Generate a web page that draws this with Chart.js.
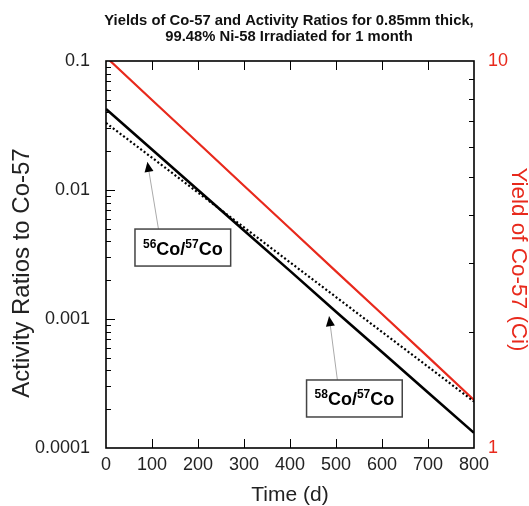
<!DOCTYPE html>
<html><head><meta charset="utf-8">
<script src="https://cdn.jsdelivr.net/npm/chart.js@4/dist/chart.umd.min.js"></script>
<style>html,body{margin:0;padding:0;background:#fff;}canvas{display:block;}</style>
</head><body>
<canvas id="c" width="529" height="506"></canvas>
<script>
// ---- data ----
const days = [0, 100, 200, 300, 400, 500, 600, 700, 800];
const co58Ratio = [0.0425, 0.0206, 0.0100, 0.00485, 0.00236, 0.00114, 0.000555, 0.000269, 0.000131];
const co56Ratio = [0.0331, 0.0178, 0.00955, 0.00513, 0.00275, 0.00148, 0.000794, 0.000427, 0.000229];
const co57Yield = [10.24, 7.93, 6.15, 4.76, 3.69, 2.86, 2.22, 1.72, 1.33];
const xTickValues = [0, 100, 200, 300, 400, 500, 600, 700, 800];
const leftTickValues = [0.0001, 0.001, 0.01, 0.1];
const leftTickLabels = ['0.0001', '0.001', '0.01', '0.1'];
const rightTickValues = [1, 10];
const rightTickLabels = ['1', '10'];
const titleLines = ['Yields of Co-57 and Activity Ratios for 0.85mm thick,', '99.48% Ni-58 Irradiated for 1 month'];
const leftTitle = 'Activity Ratios to Co-57';
const rightTitle = 'Yield of Co-57 (Ci)';
const xTitle = 'Time (d)';
const annotations = [
  {sup1: '56', main1: 'Co/', sup2: '57', main2: 'Co', tip: {x: 90, y: 0.0165}, tail: {x: 114, y: 0.00499}, box: {x: 167, y: 0.00358}},
  {sup1: '58', main1: 'Co/', sup2: '57', main2: 'Co', tip: {x: 485, y: 0.00105}, tail: {x: 503, y: 0.000337}, box: {x: 540, y: 0.000242}}
];

const FAM = '"Liberation Sans", Arial, Helvetica, sans-serif';
const RED = '#e8291c';
const TXT = '#222';

const titlePlugin = {
  id: 'titleText',
  afterDraw(chart) {
    const {ctx, chartArea: a} = chart;
    ctx.save();
    ctx.fillStyle = '#111';
    ctx.font = 'bold 14.8px ' + FAM;
    ctx.textAlign = 'center';
    ctx.textBaseline = 'middle';
    const cx = (a.left + a.right) / 2 - 1;
    ctx.fillText(titleLines[0], cx, 21);
    ctx.fillText(titleLines[1], cx, 36.5);
    // left axis title
    ctx.save();
    ctx.translate(22, 273);
    ctx.rotate(-Math.PI / 2);
    ctx.font = '24px ' + FAM;
    ctx.fillStyle = TXT;
    ctx.fillText(leftTitle, 0, 0);
    ctx.restore();
    // right axis title
    ctx.save();
    ctx.translate(518, 259.5);
    ctx.rotate(Math.PI / 2);
    ctx.font = '22.5px ' + FAM;
    ctx.fillStyle = RED;
    ctx.fillText(rightTitle, 0, 0);
    ctx.restore();
    ctx.restore();
  }
};

const framePlugin = {
  id: 'frame',
  afterDatasetsDraw(chart) {
    const {ctx, chartArea: a, scales} = chart;
    ctx.save();
    ctx.strokeStyle = '#000';
    ctx.lineWidth = 1;
    ctx.beginPath();
    xTickValues.forEach(v => {
      if (v <= scales.x.min || v >= scales.x.max) return;
      const x = Math.round(scales.x.getPixelForValue(v)) + 0.5;
      ctx.moveTo(x, a.bottom); ctx.lineTo(x, a.bottom - 9);
      ctx.moveTo(x, a.top); ctx.lineTo(x, a.top + 9);
    });
    for (let k = -4; k <= -2; k++) {
      for (let m = 1; m <= 9; m++) {
        const v = m * Math.pow(10, k);
        if (v <= scales.y.min * 1.0001 || v >= scales.y.max * 0.9999) continue;
        const y = Math.round(scales.y.getPixelForValue(v)) + 0.5;
        const len = m === 1 ? 9 : 5;
        ctx.moveTo(a.left, y); ctx.lineTo(a.left + len, y);
      }
    }
    for (let m = 2; m <= 9; m++) {
      const y = Math.round(scales.y2.getPixelForValue(m)) + 0.5;
      ctx.moveTo(a.right, y); ctx.lineTo(a.right - 5, y);
    }
    ctx.stroke();
    ctx.lineWidth = 1.6;
    ctx.strokeRect(a.left, a.top, a.right - a.left, a.bottom - a.top);
    ctx.restore();
  }
};

const annotationPlugin = {
  id: 'labels',
  afterDatasetsDraw(chart) {
    const {ctx, scales} = chart;
    ctx.save();
    annotations.forEach(an => {
      const tx = scales.x.getPixelForValue(an.tip.x), ty = scales.y.getPixelForValue(an.tip.y);
      const lx = scales.x.getPixelForValue(an.tail.x), ly = scales.y.getPixelForValue(an.tail.y);
      const bx = scales.x.getPixelForValue(an.box.x), by = scales.y.getPixelForValue(an.box.y);
      ctx.strokeStyle = '#aaa'; ctx.lineWidth = 1;
      ctx.beginPath(); ctx.moveTo(lx, ly); ctx.lineTo(tx, ty); ctx.stroke();
      const ang = Math.atan2(ty - ly, tx - lx);
      const L = 10, W = 4.5;
      ctx.fillStyle = '#000';
      ctx.beginPath();
      ctx.moveTo(tx, ty);
      ctx.lineTo(tx - L * Math.cos(ang) + W * Math.sin(ang), ty - L * Math.sin(ang) - W * Math.cos(ang));
      ctx.lineTo(tx - L * Math.cos(ang) - W * Math.sin(ang), ty - L * Math.sin(ang) + W * Math.cos(ang));
      ctx.closePath(); ctx.fill();
      const fMain = 'bold 18px ' + FAM, fSup = 'bold 12px ' + FAM;
      ctx.font = fSup; const ws1 = ctx.measureText(an.sup1).width, ws2 = ctx.measureText(an.sup2).width;
      ctx.font = fMain; const wm1 = ctx.measureText(an.main1).width, wm2 = ctx.measureText(an.main2).width;
      const tw = ws1 + wm1 + ws2 + wm2;
      const bw = tw + 16, bh = 37;
      ctx.fillStyle = '#fff';
      ctx.fillRect(bx - bw / 2, by - bh / 2, bw, bh);
      ctx.strokeStyle = '#444'; ctx.lineWidth = 1.5;
      ctx.strokeRect(bx - bw / 2, by - bh / 2, bw, bh);
      ctx.fillStyle = '#000';
      ctx.textBaseline = 'alphabetic'; ctx.textAlign = 'left';
      let x = bx - tw / 2;
      const base = by + 7;
      ctx.font = fSup; ctx.fillText(an.sup1, x, base - 7); x += ws1;
      ctx.font = fMain; ctx.fillText(an.main1, x, base); x += wm1;
      ctx.font = fSup; ctx.fillText(an.sup2, x, base - 7); x += ws2;
      ctx.font = fMain; ctx.fillText(an.main2, x, base);
    });
    ctx.restore();
  }
};

const pts = arr => days.map((d, i) => ({x: d, y: arr[i]}));

new Chart(document.getElementById('c'), {
  type: 'line',
  data: {
    datasets: [
      {label: '58Co/57Co', data: pts(co58Ratio), yAxisID: 'y', borderColor: '#000', borderWidth: 2.6, pointRadius: 0, tension: 0, clip: 0},
      {label: '56Co/57Co', data: pts(co56Ratio), yAxisID: 'y', borderColor: '#000', borderWidth: 2.2, borderDash: [2, 2.3], pointRadius: 0, tension: 0, clip: 0},
      {label: 'Co-57 yield', data: pts(co57Yield), yAxisID: 'y2', borderColor: RED, borderWidth: 2.2, pointRadius: 0, tension: 0, clip: 0}
    ]
  },
  options: {
    responsive: false,
    animation: false,
    devicePixelRatio: 1,
    layout: {padding: {top: 61, left: 0, right: 0, bottom: 0}},
    plugins: {legend: {display: false}, tooltip: {enabled: false}, title: {display: false}},
    scales: {
      x: {
        type: 'linear', position: 'bottom', min: 0, max: 800,
        afterBuildTicks: s => { s.ticks = xTickValues.map(v => ({value: v})); },
        afterFit: s => { s.height = 58; },
        grid: {display: false, drawTicks: false}, border: {display: false},
        ticks: {color: TXT, font: {size: 18, family: FAM}, padding: 6, maxRotation: 0, autoSkip: false},
        title: {display: true, text: xTitle, color: TXT, font: {size: 21, family: FAM, lineHeight: 1}, padding: {top: 0, bottom: 0}}
      },
      y: {
        type: 'logarithmic', position: 'left', min: 0.0001, max: 0.1,
        afterBuildTicks: s => { s.ticks = leftTickValues.map(v => ({value: v})); },
        afterFit: s => { s.width = 106; },
        grid: {display: false, drawTicks: false}, border: {display: false},
        ticks: {color: TXT, font: {size: 18, family: FAM}, padding: 16, autoSkip: false,
          callback: v => leftTickLabels[leftTickValues.indexOf(v)]},
        title: {display: false}
      },
      y2: {
        type: 'logarithmic', position: 'right', min: 1, max: 10,
        afterBuildTicks: s => { s.ticks = rightTickValues.map(v => ({value: v})); },
        afterFit: s => { s.width = 55; },
        grid: {display: false, drawTicks: false}, border: {display: false},
        ticks: {color: RED, font: {size: 18, family: FAM}, padding: 14, autoSkip: false,
          callback: v => rightTickLabels[rightTickValues.indexOf(v)]},
        title: {display: false}
      }
    }
  },
  plugins: [titlePlugin, framePlugin, annotationPlugin]
});
</script>
</body></html>
